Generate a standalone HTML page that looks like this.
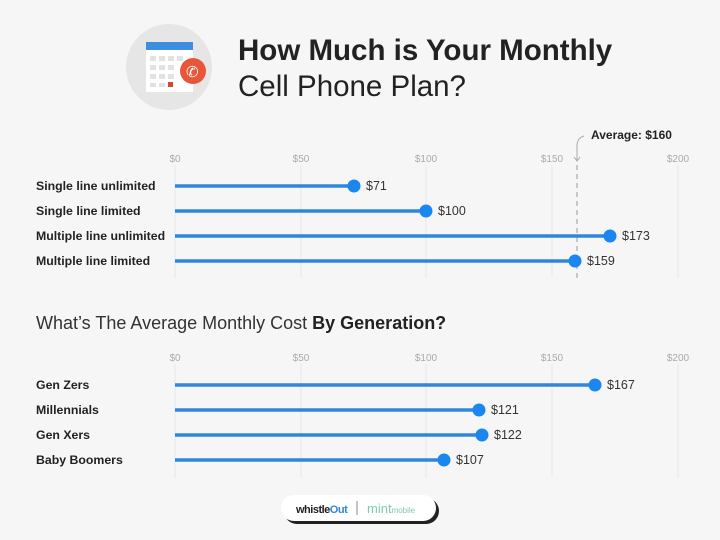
<!DOCTYPE html>
<html><head><style>
html,body{margin:0;padding:0;background:#f6f6f6;}
svg{display:block;font-family:"Liberation Sans",sans-serif;}
</style></head><body>
<svg width="720" height="540" viewBox="0 0 720 540" xmlns="http://www.w3.org/2000/svg">
<rect width="720" height="540" fill="#f6f6f6"/>
<!-- icon -->
<circle cx="169" cy="67" r="43" fill="#e6e6e6"/>
<rect x="146" y="46" width="47" height="46" fill="#fff"/>
<rect x="146" y="42" width="47" height="8" fill="#3b8ee0"/>
<g fill="#e2e2e2">
<rect x="150" y="56" width="6" height="5"/><rect x="159" y="56" width="6" height="5"/><rect x="168" y="56" width="6" height="5"/><rect x="177" y="56" width="6" height="5"/>
<rect x="150" y="65" width="6" height="5"/><rect x="159" y="65" width="6" height="5"/><rect x="168" y="65" width="6" height="5"/>
<rect x="150" y="74" width="6" height="5"/><rect x="159" y="74" width="6" height="5"/><rect x="168" y="74" width="6" height="5"/>
<rect x="150" y="83" width="6" height="4"/><rect x="159" y="83" width="6" height="4"/>
</g>
<rect x="168" y="82" width="5" height="5" fill="#d9472b"/>
<circle cx="193" cy="71" r="13" fill="#e8563a"/>
<text x="186" y="77" font-size="15" fill="#fff">✆</text>
<!-- title -->
<text x="238" y="60" font-size="29.5" font-weight="bold" fill="#222">How Much is Your Monthly</text>
<text x="238" y="96" font-size="29.5" fill="#222" font-weight="300">Cell Phone Plan?</text>
<!-- grid -->
<g stroke="#e8e8e8" stroke-width="1">
<line x1="175" y1="165" x2="175" y2="278"/><line x1="301" y1="165" x2="301" y2="278"/><line x1="426" y1="165" x2="426" y2="278"/><line x1="552" y1="165" x2="552" y2="278"/><line x1="678" y1="165" x2="678" y2="278"/>
<line x1="175" y1="364" x2="175" y2="478"/><line x1="301" y1="364" x2="301" y2="478"/><line x1="426" y1="364" x2="426" y2="478"/><line x1="552" y1="364" x2="552" y2="478"/><line x1="678" y1="364" x2="678" y2="478"/>
</g>
<g font-size="10" fill="#aaa" text-anchor="middle">
<text x="175" y="162">$0</text><text x="301" y="162">$50</text><text x="426" y="162">$100</text><text x="552" y="162">$150</text><text x="678" y="162">$200</text>
<text x="175" y="361">$0</text><text x="301" y="361">$50</text><text x="426" y="361">$100</text><text x="552" y="361">$150</text><text x="678" y="361">$200</text>
</g>
<line x1="577" y1="165" x2="577" y2="278" stroke="#999" stroke-dasharray="5,4"/>
<path d="M577 160 L577 146 Q577 138 584 136" fill="none" stroke="#aaa"/>
<path d="M574 157 L577 161 L580 157" fill="none" stroke="#aaa"/>
<text x="591" y="139" font-size="12" font-weight="bold" fill="#222">Average: $160</text>
<g font-size="12.3" font-weight="bold" fill="#222">
<text x="36" y="190">Single line unlimited</text>
<text x="36" y="215">Single line limited</text>
<text x="36" y="240">Multiple line unlimited</text>
<text x="36" y="265">Multiple line limited</text>
<text x="36" y="389">Gen Zers</text>
<text x="36" y="414">Millennials</text>
<text x="36" y="439">Gen Xers</text>
<text x="36" y="464">Baby Boomers</text>
</g>
<g stroke="#2f86dc" stroke-width="3.5">
<line x1="175" y1="186" x2="354" y2="186"/>
<line x1="175" y1="211" x2="426" y2="211"/>
<line x1="175" y1="236" x2="610" y2="236"/>
<line x1="175" y1="261" x2="575" y2="261"/>
<line x1="175" y1="385" x2="595" y2="385"/>
<line x1="175" y1="410" x2="479" y2="410"/>
<line x1="175" y1="435" x2="482" y2="435"/>
<line x1="175" y1="460" x2="444" y2="460"/>
</g>
<g fill="#1a87f0">
<circle cx="354" cy="186" r="6.5"/><circle cx="426" cy="211" r="6.5"/><circle cx="610" cy="236" r="6.5"/><circle cx="575" cy="261" r="6.5"/>
<circle cx="595" cy="385" r="6.5"/><circle cx="479" cy="410" r="6.5"/><circle cx="482" cy="435" r="6.5"/><circle cx="444" cy="460" r="6.5"/>
</g>
<g font-size="12.5" fill="#333">
<text x="366" y="190">$71</text><text x="438" y="215">$100</text><text x="622" y="240">$173</text><text x="587" y="265">$159</text>
<text x="607" y="389">$167</text><text x="491" y="414">$121</text><text x="494" y="439">$122</text><text x="456" y="464">$107</text>
</g>
<text x="36" y="329" font-size="18" fill="#333">What’s The Average Monthly Cost <tspan font-weight="bold" fill="#222">By Generation?</tspan></text>
<!-- logo pill -->
<rect x="284" y="498" width="155" height="26" rx="13" fill="#222"/>
<rect x="281" y="495" width="155" height="26" rx="13" fill="#fff"/>
<text x="296" y="513" font-size="11" font-weight="bold" fill="#222" letter-spacing="-0.5">whistle<tspan fill="#2f86dc">Out</tspan></text>
<line x1="357" y1="501" x2="357" y2="515" stroke="#888"/>
<text x="367" y="513" font-size="13" fill="#7fc8b4">mint<tspan font-size="8">mobile</tspan></text>
</svg>
</body></html>
